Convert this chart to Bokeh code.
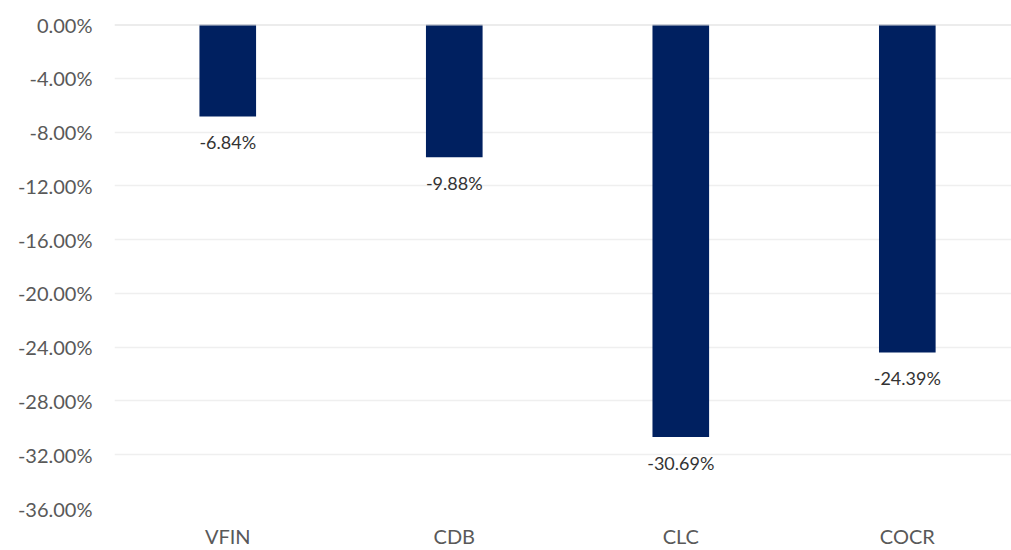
from bokeh.plotting import figure
from bokeh.models import ColumnDataSource, Range1d, FixedTicker, PrintfTickFormatter, Span
from bokeh.core.properties import value
from bokeh.embed import file_html
from bokeh.resources import INLINE

categories = ["VFIN", "CDB", "CLC", "COCR"]
returns = [-6.84, -9.88, -30.69, -24.39]
y_ticks = [0, -4, -8, -12, -16, -20, -24, -28, -32, -36]

xpos = [i + 0.5 for i in range(len(categories))]
labels = ["%.2f%%" % v for v in returns]
source = ColumnDataSource(dict(x=xpos, top=returns, label=labels))

p = figure(width=1011, height=550, output_backend="svg", toolbar_location=None,
           x_range=Range1d(0, 3.96), y_range=Range1d(-36, 0),
           min_border_left=114, min_border_right=0, min_border_top=24, min_border_bottom=42)
p.outline_line_color = None
p.background_fill_color = "white"
p.border_fill_color = "white"

p.vbar(x="x", top="top", bottom=0, width=0.25, source=source,
       fill_color="#002060", line_color=None)

p.text(x="x", y="top", text="label", source=source, text_align="center",
       text_baseline="middle", y_offset=26, text_font=value("Lato"),
       text_font_size="18px", text_color="#333333")

p.xaxis.ticker = FixedTicker(ticks=xpos)
p.xaxis.major_label_overrides = {x: c for x, c in zip(xpos, categories)}
p.xaxis.axis_line_color = None
p.xaxis.major_tick_line_color = None
p.xaxis.minor_tick_line_color = None
p.xaxis.major_tick_out = 0
p.xaxis.major_tick_in = 0
p.xaxis.major_label_standoff = 15
p.xaxis.major_label_text_font = "Lato"
p.xaxis.major_label_text_font_size = "20px"
p.xaxis.major_label_text_color = "#595959"
p.xgrid.grid_line_color = None

p.yaxis.ticker = FixedTicker(ticks=y_ticks)
p.yaxis.formatter = PrintfTickFormatter(format="%.2f%%")
p.yaxis.axis_line_color = None
p.yaxis.major_tick_line_color = None
p.yaxis.minor_tick_line_color = None
p.yaxis.major_tick_out = 0
p.yaxis.major_tick_in = 0
p.yaxis.major_label_standoff = 22
p.yaxis.major_label_text_font = "Lato"
p.yaxis.major_label_text_font_size = "20px"
p.yaxis.major_label_text_color = "#595959"
p.ygrid.grid_line_color = "#EFEFEF"
p.ygrid.grid_line_width = 1.5

zero = Span(location=0, dimension="width", line_color="#D9D9D9", line_width=2)
p.add_layout(zero)

open("out.html", "w").write(file_html(p, INLINE))
